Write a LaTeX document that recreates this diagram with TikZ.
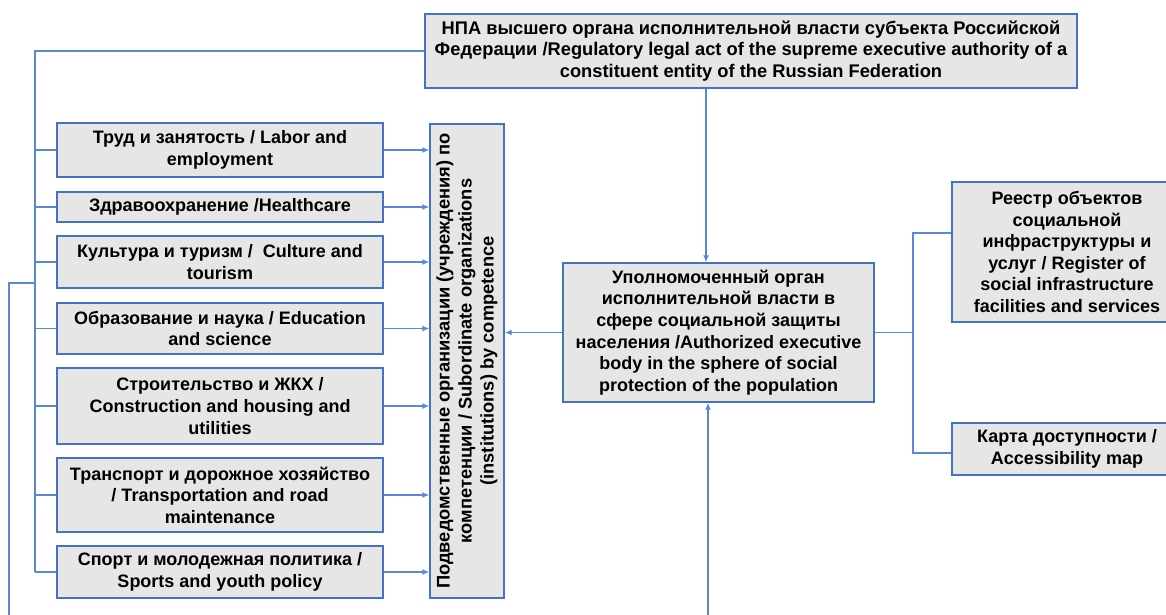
\documentclass[tikz,border=0pt]{standalone}
\usepackage{fontspec}
\setmainfont{Liberation Sans}
\usepackage{tikz,pgf}
\usetikzlibrary{arrows.meta}
\definecolor{ramme}{HTML}{4472C4}
\definecolor{strek}{HTML}{5A88D8}
\definecolor{fyll}{HTML}{E6E6E6}

\begin{document}
\begin{tikzpicture}[
  x=1pt, y=-1pt,
  every node/.style={align=center, inner sep=2pt, font=\bfseries\fontsize{18}{21.6}\selectfont}
]
\tikzstyle{blok}=[rectangle, draw=ramme, fill=fyll, line width=1.4pt]
\tikzstyle{venstre}=[blok, minimum width=326]
\tikzstyle{lin}=[draw=strek, line width=1.3pt]
\tikzstyle{pil}=[lin, -{Latex[length=7pt,width=6pt]}]

\useasboundingbox (0,0) rectangle (1166,614);

\node[blok, minimum width=652, minimum height=74, font=\bfseries\fontsize{18.3}{21.6}\selectfont] (npa) at (751,51)
  {НПА высшего органа исполнительной власти субъекта Российской\\
   Федерации /Regulatory legal act of the supreme executive authority of a\\
   constituent entity of the Russian Federation};

\node[venstre, minimum height=54] (l1) at (220,150) {Труд и занятость / Labor and\\ employment};
\node[venstre, minimum height=30] (l2) at (220,207) {Здравоохранение /Healthcare};
\node[venstre, minimum height=52] (l3) at (220,262) {Культура и туризм /~ Culture and\\ tourism};
\node[venstre, minimum height=51] (l4) at (220,328.5) {Образование и наука / Education\\ and science};
\node[venstre, minimum height=76] (l5) at (220,406) {Строительство и ЖКХ /\\ Construction and housing and\\ utilities};
\node[venstre, minimum height=74] (l6) at (220,495) {Транспорт и дорожное хозяйство\\ / Transportation and road\\ maintenance};
\node[venstre, minimum height=52] (l7) at (220,572) {Спорт и молодежная политика /\\ Sports and youth policy};

\node[blok, rotate=90, minimum width=474, minimum height=74, font=\bfseries\fontsize{18.3}{22}\selectfont] (sub) at (467,361)
  {Подведомственные организации (учреждения) по\\
   компетенции / Subordinate organizations\\
   (institutions) by competence};

\node[blok, minimum width=311, minimum height=139] (sen) at (718.5,332.5)
  {Уполномоченный орган\\ исполнительной власти в\\ сфере социальной защиты\\
   населения /Authorized executive\\ body in the sphere of social\\ protection of the population};

\node[blok, minimum width=230, minimum height=140] (reg) at (1067,252)
  {Реестр объектов\\ социальной\\ инфраструктуры и\\ услуг / Register of\\
   social infrastructure\\ facilities and services};
\node[blok, minimum width=230, minimum height=52] (kart) at (1067,449)
  {Карта доступности /\\ Accessibility map};

\coordinate (v) at (35,51);
\coordinate (w) at (9,283);
\coordinate (wb) at (9,620);
\coordinate (p1) at (706,88);
\coordinate (p2) at (708,620);
\coordinate (h1) at (913,233);
\coordinate (h2) at (913,453);

\draw[lin] (npa.west) -- (v) -- (v |- l7.west);
\draw[lin] (w -| v) -- (w) -- (wb);
\foreach \n in {l1,l2,l3,l4,l5,l6,l7}{
  \draw[lin] (\n.west -| v) -- (\n.west);
  \draw[pil] (\n.east) -- (\n.east -| sub.north);
}

\draw[pil] (npa.south -| p1) -- (p1 |- sen.north);
\draw[pil] (p2) -- (p2 |- sen.south);
\draw[pil] (sen.west) -- (sen.west -| sub.south);

\draw[lin] (sen.east) -- (sen.east -| h1);
\draw[lin] (reg.west |- h1) -- (h1) -- (h2) -- (kart.west |- h2);
\end{tikzpicture}
\end{document}
